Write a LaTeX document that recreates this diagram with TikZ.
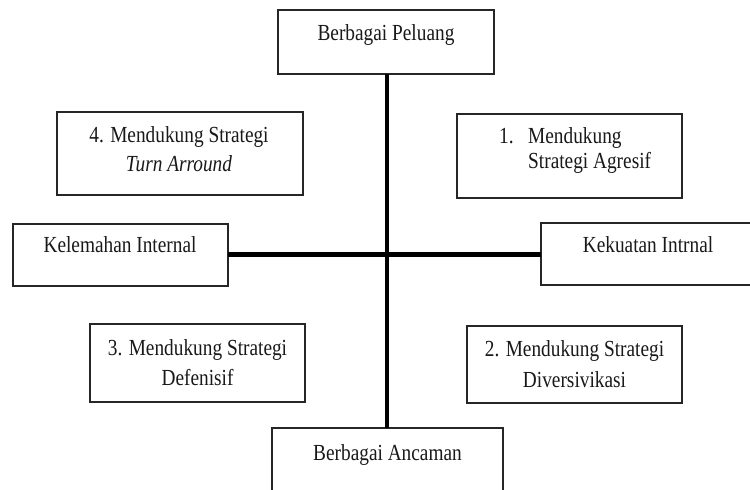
\documentclass[tikz,border=0pt]{standalone}
\usepackage{fontspec}
\setmainfont[FakeStretch=0.84]{Liberation Serif}
\begin{document}
\begin{tikzpicture}[x=1pt,y=-1pt,
  box/.style={draw=black!85,line width=1.3pt,rectangle,inner sep=0pt,outer sep=0pt,fill=white},
  txt/.style={inner sep=0pt,anchor=base,font=\fontsize{23}{27}\selectfont,text=black!90},
  txtl/.style={txt,anchor=base west},
  axis/.style={line width=4.7pt,black}]
\useasboundingbox (0,0) rectangle (750,490);
\begin{scope}
\clip (0,0) rectangle (750,490);
% boxes
\node[box,minimum width=216pt,minimum height=64pt] (top) at (386,42) {};
\node[box,minimum width=246pt,minimum height=83pt] (b4) at (180,153.5) {};
\node[box,minimum width=225pt,minimum height=84pt] (b1) at (569.5,156) {};
\node[box,minimum width=215pt,minimum height=62pt] (kel) at (120.5,255) {};
\node[box,minimum width=214pt,minimum height=62pt] (kek) at (648,254) {};
\node[box,minimum width=215pt,minimum height=78pt] (b3) at (197.5,363) {};
\node[box,minimum width=215pt,minimum height=77pt] (b2) at (574.5,364.5) {};
\node[box,minimum width=231pt,minimum height=72pt] (bot) at (387.5,464) {};
% axes
\coordinate (c) at (387,254.7);
\draw[axis] (top.south -| c) -- (bot.north -| c);
\draw[axis] (kel.east |- c) -- (kek.west |- c);
\end{scope}
% texts
\node[txt] (ttop) at (386,40) {Berbagai Peluang};
\node[txt] (t4a) at (179,142) {4. Mendukung Strategi};
\node[txt] (t4b) at (179,171.5) {\itshape Turn Arround};
\node[txtl] (t1n) at (499,143) {1.};
\node[txtl] (t1a) at (528,143) {Mendukung};
\node[txtl] (t1b) at (528,168) {Strategi Agresif};
\node[txt] (tkel) at (120,252.7) {Kelemahan Internal};
\node[txt] (tkek) at (648,252) {Kekuatan Intrnal};
\node[txt] (t3a) at (197.5,355) {3. Mendukung Strategi};
\node[txt] (t3b) at (197.5,385) {Defenisif};
\node[txt] (t2a) at (574.5,356) {2. Mendukung Strategi};
\node[txt] (t2b) at (574.5,387) {Diversivikasi};
\node[txt] (tbot) at (387.5,460) {Berbagai Ancaman};
\end{tikzpicture}
\end{document}
